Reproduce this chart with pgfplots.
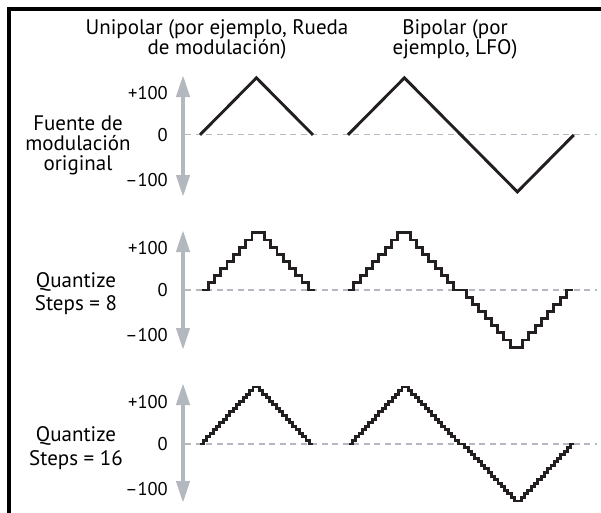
\documentclass[border=0pt]{standalone}
\usepackage{fontspec}
\setmainfont{PT Sans}
\usepackage{pgfplots}
\pgfplotsset{compat=1.18}
\usetikzlibrary{arrows.meta}

\definecolor{wave}{HTML}{231F20}
\definecolor{arrowgray}{HTML}{B3B8BE}
\definecolor{zerogray}{HTML}{B5B8C0}

\newcommand\tfont{\fontsize{21}{21}\selectfont}

\pgfplotsset{
  wavepanel/.style={
    scale only axis, width=414pt,
    axis y line=left, axis x line=none,
    y axis line style={line width=4pt, color=arrowgray,
      arrows={Triangle[width=13pt,length=22pt]-Triangle[width=13pt,length=22pt]}},
    ytick={-79,0,73}, yticklabels={–100,0,+100},
    major tick length=0pt,
    yticklabel style={font=\fontsize{18.5}{18.5}\selectfont, inner sep=0pt,
      anchor=east, xshift=-15pt},
    clip=false, axis on top,
  },
  wave/.style={color=wave, line width=2.9pt, line join=miter, mark=none},
  zero/.style={color=zerogray, line width=1.2pt, dash pattern=on 6pt off 4.5pt},
}

\begin{document}
\begin{tikzpicture}[x=1pt,y=1pt]
\useasboundingbox (0,0) rectangle (601,-512);
\draw[line width=3.5pt, line join=miter] (9,-520) -- (9,-9) -- (610,-9);

% column titles
\node[font=\tfont, anchor=base] at (217,-34.5) {Unipolar (por ejemplo, Rueda};
\node[font=\tfont, anchor=base] at (217,-54) {de modulación)};
\node[font=\tfont, anchor=base] at (455,-34.5) {Bipolar (por};
\node[font=\tfont, anchor=base] at (455,-54) {ejemplo, LFO)};

% row labels
\node[font=\tfont, anchor=base] at (78,-130.5) {Fuente de};
\node[font=\tfont, anchor=base] at (78,-150.5) {modulación};
\node[font=\tfont, anchor=base] at (78,-170.5) {original};
\node[font=\tfont, anchor=base] at (76,-287.3) {Quantize};
\node[font=\tfont, anchor=base] at (76,-310.8) {Steps = 8};
\node[font=\tfont, anchor=base] at (76,-441.7) {Quantize};
\node[font=\tfont, anchor=base] at (76,-465) {Steps = 16};

% original source
\begin{axis}[wavepanel, at={(183pt,-75pt)}, anchor=north west, height=122pt,
  xmin=-0.30, xmax=7.03, ymin=-109, ymax=105]
\addplot[zero] coordinates {(-0.26,0) (7.03,0)};
\addplot[wave] coordinates {(0,0) (1,100) (2,0)};
\addplot[wave] coordinates {(2.62,0) (3.62,100) (4.62,0) (5.62,-100) (6.62,0)};
\end{axis}

% quantize steps = 8
\begin{axis}[wavepanel, at={(183pt,-230pt)}, anchor=north west, height=120pt,
  xmin=-3.04, xmax=63.2, ymin=-105, ymax=105]
\addplot[zero] coordinates {(-2.7,0) (63.2,0)};
\addplot[wave, const plot] coordinates {
  (0,0) (1,12.5) (2,25) (3,37.5) (4,50) (5,62.5) (6,75) (7,87.5) (8,100)
  (10,87.5) (11,75) (12,62.5) (13,50) (14,37.5) (15,25) (16,12.5) (17,0) (18,0)};
\addplot[wave, const plot] coordinates {
  (23.3,0) (24.3,12.5) (25.3,25) (26.3,37.5) (27.3,50) (28.3,62.5) (29.3,75)
  (30.3,87.5) (31.3,100) (33.3,87.5) (34.3,75) (35.3,62.5) (36.3,50) (37.3,37.5)
  (38.3,25) (39.3,12.5) (40.3,0) (42.3,-12.5) (43.3,-25) (44.3,-37.5) (45.3,-50)
  (46.3,-62.5) (47.3,-75) (48.3,-87.5) (49.3,-100) (51.3,-87.5) (52.3,-75)
  (53.3,-62.5) (54.3,-50) (55.3,-37.5) (56.3,-25) (57.3,-12.5) (58.3,0) (59.3,0)};
\end{axis}

% quantize steps = 16
\begin{axis}[wavepanel, at={(183pt,-383pt)}, anchor=north west, height=120pt,
  xmin=-5.14, xmax=119.9, ymin=-103.5, ymax=107]
\addplot[zero] coordinates {(-4.5,0) (119.9,0)};
\addplot[wave, const plot] coordinates {
  (0,0) (1,6.25) (2,12.5) (3,18.75) (4,25) (5,31.25) (6,37.5) (7,43.75) (8,50)
  (9,56.25) (10,62.5) (11,68.75) (12,75) (13,81.25) (14,87.5) (15,93.75) (16,100)
  (18,93.75) (19,87.5) (20,81.25) (21,75) (22,68.75) (23,62.5) (24,56.25) (25,50)
  (26,43.75) (27,37.5) (28,31.25) (29,25) (30,18.75) (31,12.5) (32,6.25) (33,0) (34,0)};
\addplot[wave, const plot] coordinates {
  (45,0) (46,6.25) (47,12.5) (48,18.75) (49,25) (50,31.25) (51,37.5) (52,43.75)
  (53,50) (54,56.25) (55,62.5) (56,68.75) (57,75) (58,81.25) (59,87.5) (60,93.75)
  (61,100) (63,93.75) (64,87.5) (65,81.25) (66,75) (67,68.75) (68,62.5) (69,56.25)
  (70,50) (71,43.75) (72,37.5) (73,31.25) (74,25) (75,18.75) (76,12.5) (77,6.25)
  (78,0) (80,-6.25) (81,-12.5) (82,-18.75) (83,-25) (84,-31.25) (85,-37.5)
  (86,-43.75) (87,-50) (88,-56.25) (89,-62.5) (90,-68.75) (91,-75) (92,-81.25)
  (93,-87.5) (94,-93.75) (95,-100) (97,-93.75) (98,-87.5) (99,-81.25) (100,-75)
  (101,-68.75) (102,-62.5) (103,-56.25) (104,-50) (105,-43.75) (106,-37.5)
  (107,-31.25) (108,-25) (109,-18.75) (110,-12.5) (111,-6.25) (112,0) (113,0)};
\end{axis}
\end{tikzpicture}
\end{document}
